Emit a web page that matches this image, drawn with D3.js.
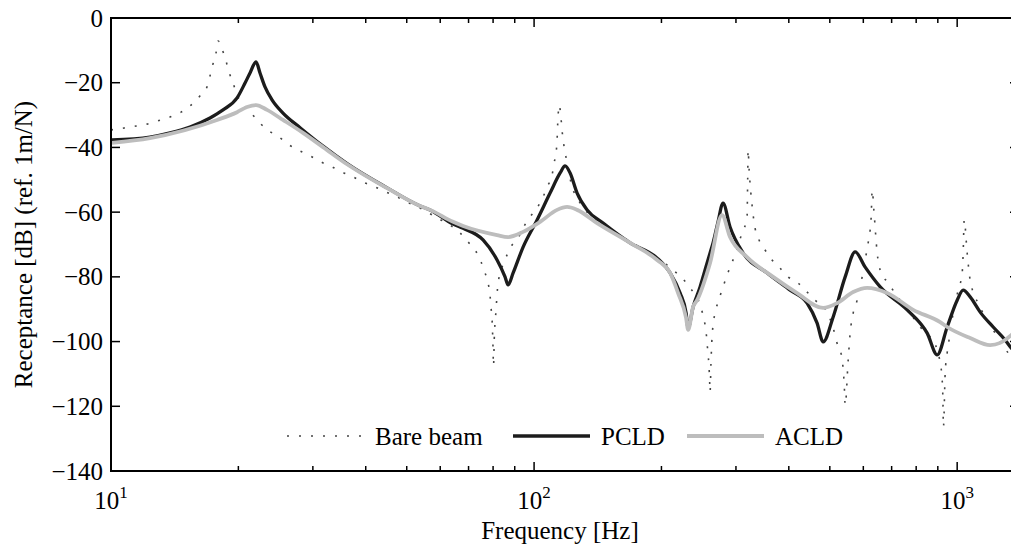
<!DOCTYPE html>
<html>
<head>
<meta charset="utf-8">
<script src="https://cdn.jsdelivr.net/npm/d3@7"></script>
<style>
  body { margin: 0; background: #fff; }
  svg text { font-family: 'Liberation Serif', 'Times New Roman', serif; font-size: 25px; fill: #000; }
</style>
</head>
<body>
<svg id="chart" width="1011" height="549"></svg>
<script>
// receptance curves, [frequency Hz, level dB]
const bareBeam = [
  [10.0, -34.6], [10.73, -34.0], [11.46, -33.4], [12.16, -32.8], [12.91, -31.8], [13.79, -30.6],
  [14.64, -29.1], [15.46, -26.9], [16.15, -24.4], [16.86, -21.3], [17.14, -17.9], [17.42, -14.2],
  [17.71, -10.8], [17.91, -7.1], [18.30, -9.6], [18.70, -13.3], [19.01, -16.7], [19.43, -20.1],
  [19.86, -23.8], [20.63, -26.9], [21.54, -29.7], [22.50, -32.5], [23.63, -34.9], [24.96, -36.8],
  [26.35, -39.2], [29.54, -42.6], [31.37, -44.5], [33.31, -46.0], [35.17, -47.6], [37.35, -49.1],
  [39.42, -50.7], [42.09, -52.2], [44.69, -53.8], [47.45, -55.3], [50.10, -56.9], [53.19, -58.4],
  [56.47, -60.3], [59.63, -62.1], [63.31, -64.0], [66.86, -66.4], [69.82, -69.2], [72.52, -71.7],
  [74.93, -75.4], [76.59, -78.8], [77.86, -81.9], [78.71, -85.9], [79.13, -89.6], [79.57, -93.3],
  [79.9, -100.0], [80.2, -107.5], [80.5, -99.5], [81.3, -90.2], [82.2, -81.9], [85.38, -74.8],
  [87.77, -71.1], [91.66, -68.0], [94.19, -64.9], [97.83, -61.5], [101.65, -58.7], [105.02, -55.3],
  [107.33, -52.2], [110.3, -48.5], [111.51, -44.8], [112.73, -41.4], [113.34, -37.7], [113.6, -34.0],
  [113.96, -30.3], [114.58, -26.9], [117.10, -37.7], [119.68, -44.8], [122.99, -52.2], [126.39, -55.6],
  [133.46, -60.0], [143.22, -63.6], [161.44, -67.7], [171.40, -69.5], [181.05, -71.7], [191.10, -73.6],
  [202.92, -75.7], [213.12, -77.9], [223.82, -80.4], [233.74, -83.4], [248.13, -89.6], [252.24, -93.3],
  [255.0, -97.0], [256.38, -100.4], [257.77, -104.1], [259.17, -107.9], [259.9, -111.9], [260.58, -115.6],
  [262.0, -105.7], [263.42, -98.6], [264.84, -94.9], [267.73, -91.2], [272.11, -87.8], [278.09, -84.1],
  [284.21, -80.4], [290.5, -77.0], [298.52, -73.2], [310.1, -66.4], [318.64, -61.8], [319.5, -53.5],
  [320.0, -47.0], [320.4, -40.8], [322.5, -47.5], [327.45, -57.8], [332.85, -64.9], [340.17, -68.6],
  [351.48, -71.7], [365.16, -74.8], [381.46, -77.3], [398.47, -80.0], [420.78, -81.9], [441.89, -84.7],
  [461.55, -87.2], [492.76, -90.9], [509.18, -95.8], [523.24, -101.7], [534.73, -105.1], [537.66, -108.8],
  [540.63, -112.8], [543.59, -119.6], [552.56, -105.7], [558.54, -97.4], [567.76, -91.2], [580.26, -87.2],
  [596.26, -80.0], [606.09, -74.8], [616.06, -69.5], [622.79, -65.5], [626.23, -61.5], [629.65, -53.2],
  [636.0, -60.0], [647.01, -72.6], [657.66, -77.9], [686.92, -81.9], [733.23, -87.2], [774.26, -91.2],
  [817.57, -95.5], [863.34, -98.6], [897.0, -102.6], [911.7, -106.6], [921.67, -111.9], [925.0, -117.0],
  [928.0, -126.4], [936.8, -109.7], [947.05, -103.5], [962.64, -97.4], [978.4, -91.2], [1005.5, -84.1],
  [1027.6, -78.8], [1033.2, -72.6], [1038.9, -62.4], [1055.9, -72.6], [1073.2, -81.0], [1133.3, -89.3],
  [1216.5, -96.4], [1319.9, -103.5], [1400, -107.2],
];

const pcld = [
  [10.05, -37.7], [12.36, -36.8], [13.79, -35.5], [15.37, -33.7], [17.14, -30.9], [18.40, -28.4],
  [19.86, -24.7], [20.74, -20.1], [21.31, -17.0], [22.02, -13.6], [22.50, -17.0], [23.12, -21.3],
  [24.02, -25.3], [25.50, -29.4], [27.98, -33.9], [31.71, -39.6], [36.14, -45.0],
  [44.94, -52.5], [53.77, -58.1], [56.78, -59.3], [64.35, -63.7], [67.96, -65.0], [75.75, -68.6],
  [81.76, -74.8], [85.38, -80.0], [86.80, -82.5], [89.22, -78.8], [94.19, -70.8], [101.65, -62.4],
  [109.09, -54.1], [115.23, -47.9], [118.38, -45.7], [121.66, -47.9], [126.39, -54.1], [133.46, -59.3],
  [145.57, -63.4], [168.66, -69.5], [195.34, -74.2], [209.66, -78.8], [221.40, -85.0], [228.72, -91.2],
  [231.23, -95.8], [237.58, -89.3], [246.77, -83.1], [249.49, -81.0], [260.58, -72.6], [264.84, -69.5],
  [272.11, -63.0], [279.6, -57.2], [290.5, -64.6], [311.79, -72.6], [355.36, -78.8], [402.83, -84.1],
  [441.89, -88.1], [466.61, -94.3], [482.12, -100.1], [509.18, -92.4], [543.59, -80.0], [574.0, -72.3],
  [606.09, -77.0], [657.66, -83.1], [761.75, -90.2], [849.35, -97.4], [897.0, -104.1], [947.05, -95.5],
  [1000, -87.2], [1033.2, -84.1], [1073.2, -86.2], [1133.3, -90.9], [1216.5, -95.5], [1298.5, -99.5],
  [1341.7, -102.0], [1400, -104.5],
];

const acld = [
  [10.05, -38.6], [12.36, -37.1], [17.81, -31.5], [19.86, -29.1], [20.97, -27.5], [22.02, -26.9],
  [23.38, -28.4], [25.50, -31.5], [28.43, -35.5], [31.71, -39.9], [36.14, -45.2], [44.94, -52.6],
  [53.77, -58.1], [56.78, -59.3], [64.35, -63.0], [67.96, -64.3], [81.76, -67.1], [86.8, -67.7],
  [94.19, -66.1], [103.33, -63.0], [113.34, -59.3], [119.68, -58.4], [126.39, -59.3], [140.9, -63.4],
  [168.66, -69.5], [195.34, -74.8], [209.66, -78.8], [218.98, -85.0], [228.72, -92.7], [231.23, -96.4],
  [237.58, -89.3], [242.81, -87.2], [260.58, -75.7], [278.09, -60.9], [290.5, -67.7], [318.64, -73.9],
  [367.16, -80.0], [418.48, -85.0], [482.12, -89.6], [520.4, -88.1], [567.76, -84.7], [612.7, -83.4],
  [683.1, -85.0], [787.04, -90.2], [911.7, -94.0], [947.05, -95.5], [1073.2, -98.9], [1196.8, -101.1],
  [1263.7, -100.4], [1341.7, -98.0], [1400, -95.8],
];

const yTicks = [0, -20, -40, -60, -80, -100, -120, -140];
const xMajorTicks = [10, 100, 1000];
const xMinorTicks = [20, 30, 40, 50, 60, 70, 80, 90, 200, 300, 400, 500, 600, 700, 800, 900];
const seriesNames = ['Bare beam', 'PCLD', 'ACLD'];

const box = { left: 111, right: 1019, top: 18, bottom: 471 };

const svg = d3.select('#chart');

const x = d3.scaleLog().domain([10, 1400]).range([box.left, box.right]);
const y = d3.scaleLinear().domain([-140, 0]).range([box.bottom, box.top]);

const styles = [
  { stroke: '#444', width: 1.6, dash: '2,10' },
  { stroke: '#1c1c1c', width: 3.3, dash: null },
  { stroke: '#bdbdbd', width: 3.8, dash: null },
];

svg.append('clipPath')
  .attr('id', 'plot-clip')
  .append('rect')
  .attr('x', box.left)
  .attr('y', box.top)
  .attr('width', box.right - box.left)
  .attr('height', box.bottom - box.top);

const line = d3.line()
  .x((d) => x(d[0]))
  .y((d) => y(d[1]))
  .curve(d3.curveMonotoneX);

const plot = svg.append('g').attr('clip-path', 'url(#plot-clip)');

[bareBeam, pcld, acld].forEach((data, i) => {
  plot.append('path')
    .datum(data)
    .attr('fill', 'none')
    .attr('stroke', styles[i].stroke)
    .attr('stroke-width', styles[i].width)
    .attr('stroke-dasharray', styles[i].dash)
    .attr('stroke-linejoin', 'round')
    .attr('d', line);
});

// axes box with inward ticks
const ticks = svg.append('g').attr('stroke', '#000').attr('stroke-width', 1.5);

yTicks.forEach((v) => {
  ticks.append('line').attr('x1', box.left).attr('x2', box.left + 9).attr('y1', y(v)).attr('y2', y(v));
  ticks.append('line').attr('x1', box.right).attr('x2', box.right - 9).attr('y1', y(v)).attr('y2', y(v));
});

xMajorTicks.concat(xMinorTicks).forEach((v) => {
  const len = xMajorTicks.includes(v) ? 9 : 5;
  ticks.append('line').attr('x1', x(v)).attr('x2', x(v)).attr('y1', box.bottom).attr('y2', box.bottom - len);
  ticks.append('line').attr('x1', x(v)).attr('x2', x(v)).attr('y1', box.top).attr('y2', box.top + len);
});

svg.append('rect')
  .attr('x', box.left)
  .attr('y', box.top)
  .attr('width', box.right - box.left)
  .attr('height', box.bottom - box.top)
  .attr('fill', 'none')
  .attr('stroke', '#000')
  .attr('stroke-width', 2);

// tick labels
svg.append('g')
  .selectAll('text')
  .data(yTicks)
  .enter()
  .append('text')
  .attr('x', box.left - 8)
  .attr('y', (d) => y(d))
  .attr('dy', '0.34em')
  .attr('text-anchor', 'end')
  .text((d) => (d < 0 ? '\u2212' + Math.abs(d) : d));

const xLabels = svg.append('g')
  .selectAll('text')
  .data(xMajorTicks)
  .enter()
  .append('text')
  .attr('x', (d) => x(d))
  .attr('y', 509)
  .attr('text-anchor', 'middle');
xLabels.append('tspan').text('10');
xLabels.append('tspan')
  .attr('dy', -11)
  .style('font-size', '17px')
  .text((d) => Math.round(Math.log10(d)));

// axis titles
svg.append('text')
  .attr('x', (box.left + box.right) / 2 - 5)
  .attr('y', 539)
  .attr('text-anchor', 'middle')
  .text('Frequency [Hz]');

svg.append('text')
  .attr('transform', `translate(32,${(box.top + box.bottom) / 2}) rotate(-90)`)
  .attr('text-anchor', 'middle')
  .text('Receptance [dB] (ref. 1m/N)');

// legend
const legendX = [287, 513, 687];
const legend = svg.append('g');
seriesNames.forEach((name, i) => {
  legend.append('line')
    .attr('x1', legendX[i])
    .attr('x2', legendX[i] + 77)
    .attr('y1', 436)
    .attr('y2', 436)
    .attr('stroke', styles[i].stroke)
    .attr('stroke-width', styles[i].width)
    .attr('stroke-dasharray', styles[i].dash);
  legend.append('text')
    .attr('x', legendX[i] + 88)
    .attr('y', 445)
    .text(name);
});
</script>
</body>
</html>
